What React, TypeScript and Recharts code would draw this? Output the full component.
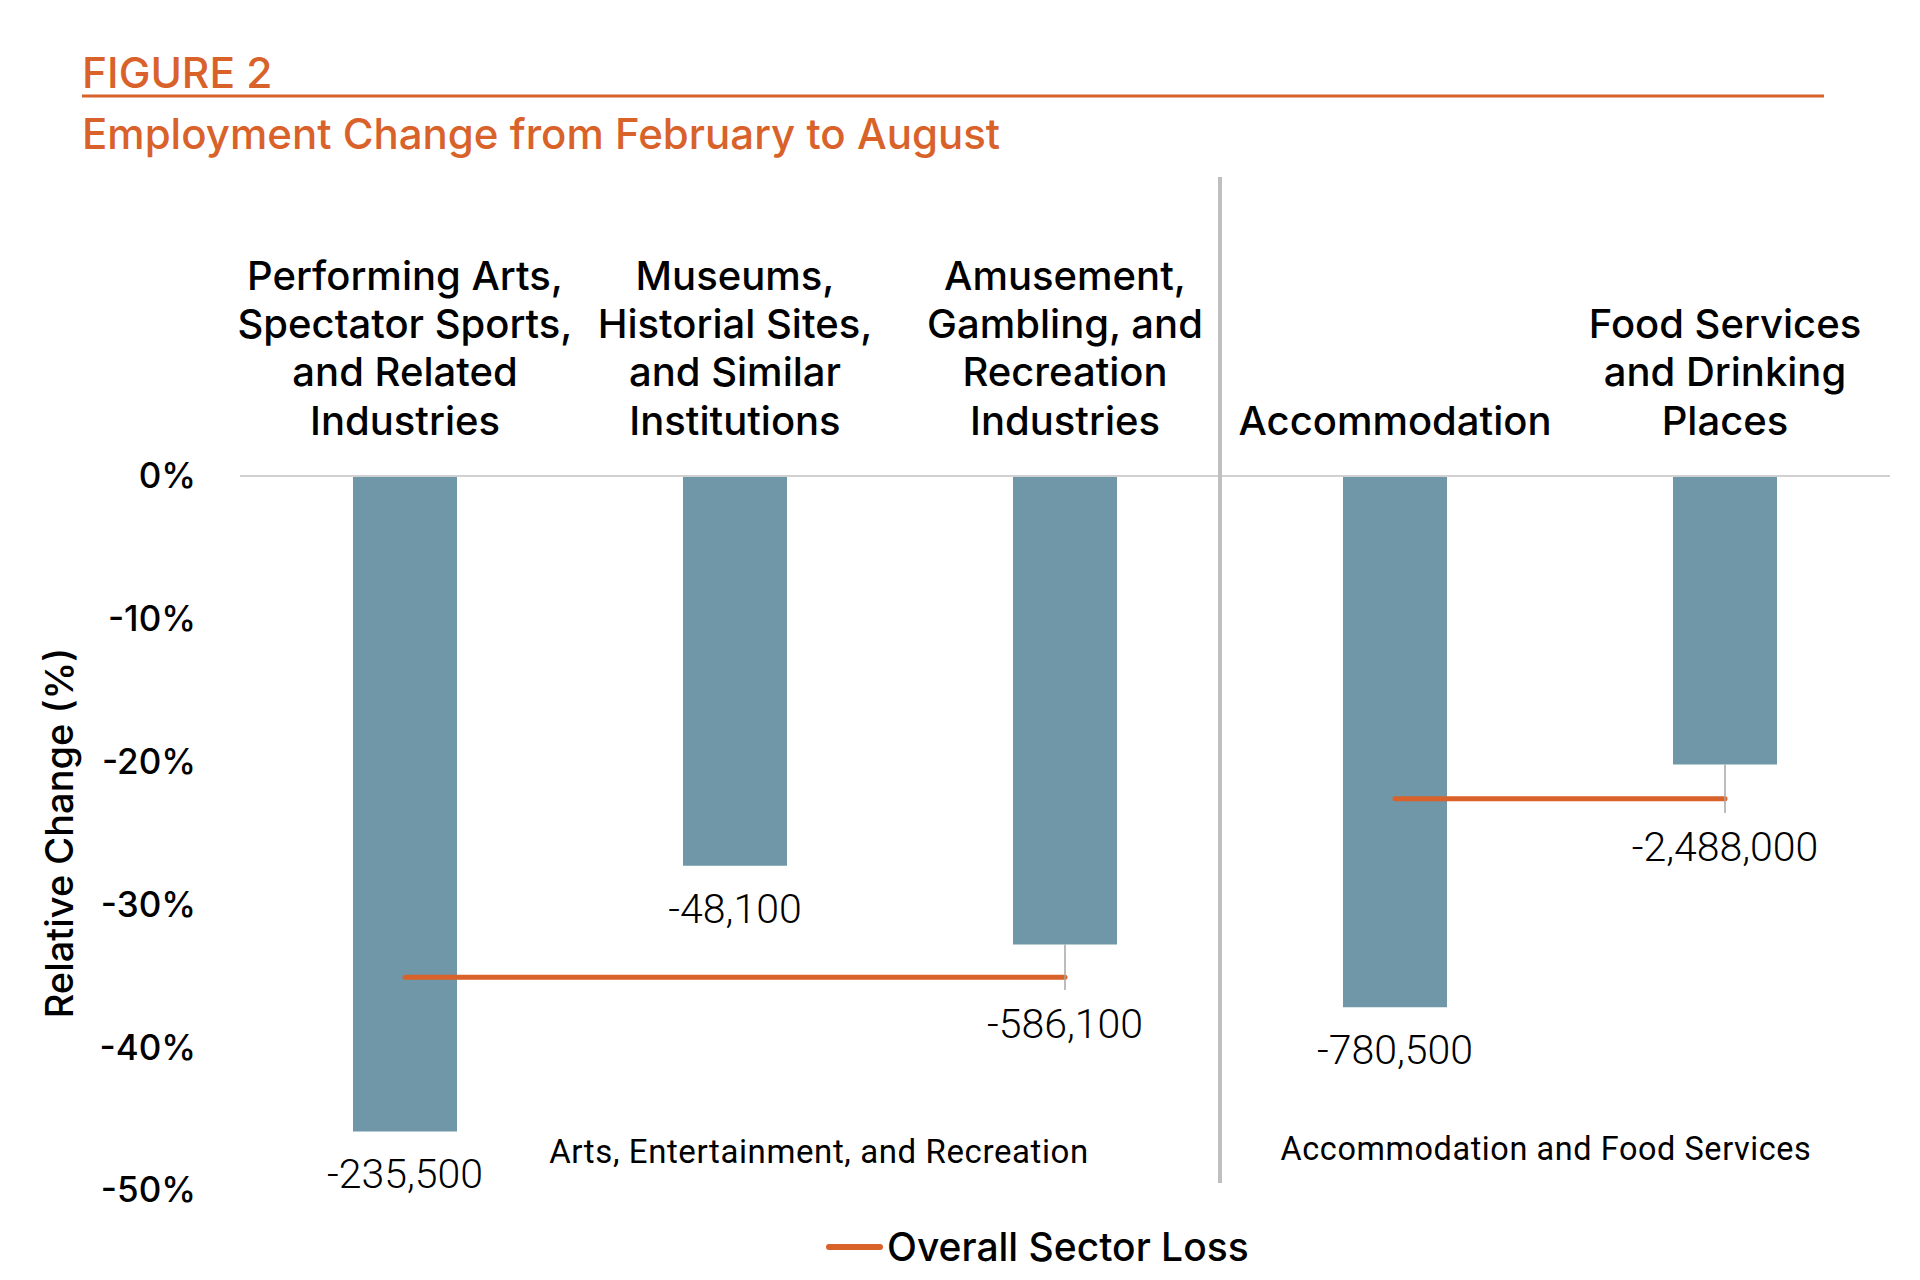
import React from 'react';
import { ComposedChart, Bar, Line, XAxis, YAxis, ReferenceLine, LabelList, Legend } from 'recharts';

// ---------- data ----------
const categories = [
  'Performing Arts, Spectator Sports, and Related Industries',
  'Museums, Historial Sites, and Similar Institutions',
  'Amusement, Gambling, and Recreation Industries',
  'Accommodation',
  'Food Services and Drinking Places',
];
const categoryLines = [
  ['Performing Arts,', 'Spectator Sports,', 'and Related', 'Industries'],
  ['Museums,', 'Historial Sites,', 'and Similar', 'Institutions'],
  ['Amusement,', 'Gambling, and', 'Recreation', 'Industries'],
  ['Accommodation'],
  ['Food Services', 'and Drinking', 'Places'],
];
const relativeChange = [-45.9, -27.3, -32.8, -37.2, -20.2];
const jobsLost = ['-235,500', '-48,100', '-586,100', '-780,500', '-2,488,000'];
const artsSectorLoss = [-35.1, -35.1, -35.1, null, null];
const accomSectorLoss = [null, null, null, -22.6, -22.6];
const leaderEnd = [null, null, -36.0, null, -23.6];
const yTicks = [0, -10, -20, -30, -40, -50];
const groupLabels = ['Arts, Entertainment, and Recreation', 'Accommodation and Food Services'];
const legendName = 'Overall Sector Loss';

const rows = categories.map((c, i) => ({
  cat: c,
  pct: relativeChange[i],
  arts: artsSectorLoss[i],
  accom: accomSectorLoss[i],
}));

// ---------- styles ----------
const ORANGE = '#D9622B';
const BAR = '#7097A8';
const LEADER = '#A6A6A6';
const BOLD = 'Inter, "Noto Sans", sans-serif';
const LIGHT = 'Roboto, "Open Sans", sans-serif';

const CategoryTick = (props: any) => {
  const { x, y, payload } = props;
  const idx = categories.indexOf(payload.value);
  const lines = categoryLines[idx] || [String(payload.value)];
  const n = lines.length;
  return (
    <text x={x} y={y} textAnchor="middle" fill="#000" fontFamily={BOLD} fontSize={40} fontWeight={500}>
      {lines.map((l, i) => (
        <tspan key={i} x={x} y={y - 41.5 - (n - 1 - i) * 48.2}>
          {l}
        </tspan>
      ))}
    </text>
  );
};

const ValueLabel = (props: any) => {
  const vb = props.viewBox ?? props;
  const x = Number(vb.x);
  const y = Number(vb.y);
  const w = Number(vb.width);
  const h = Number(vb.height);
  let i = props.index;
  if (i == null) i = relativeChange.indexOf(Number(props.value));
  const v = relativeChange[i];
  const top = Math.min(y, y + h);
  const bottom = Math.max(y, y + h);
  const ppu = (bottom - top) / Math.abs(v);
  const cx = x + w / 2;
  const le = leaderEnd[i];
  let center = bottom + 42;
  const els: any[] = [];
  if (le != null) {
    const ly = top + Math.abs(le) * ppu;
    els.push(<line key="l" x1={cx} x2={cx} y1={bottom} y2={ly} stroke={LEADER} strokeWidth={1.5} />);
    center = ly + 33;
  }
  els.push(
    <text key="t" x={cx} y={center} dy="0.36em" textAnchor="middle" fill="#000" fontFamily={LIGHT} fontSize={41} fontWeight={300}>
      {jobsLost[i]}
    </text>
  );
  return <g>{els}</g>;
};

const YLabel = (props: any) => {
  const vb = props.viewBox || { x: 90, y: 476, width: 150, height: 714 };
  const cx = vb.x - 31;
  const cy = vb.y + vb.height / 2;
  return (
    <text x={cx} y={cy} transform={`rotate(-90 ${cx} ${cy})`} textAnchor="middle" dominantBaseline="central" fill="#000" fontFamily={BOLD} fontSize={38} fontWeight={500}>
      Relative Change (%)
    </text>
  );
};

const LegendContent = (props: any) => {
  const items = (props.payload || []).filter((p: any) => p.type !== 'none');
  const label = items.length ? items[0].value : legendName;
  return (
    <div style={{ display: 'flex', alignItems: 'center', fontFamily: BOLD, fontSize: 39, fontWeight: 500, color: '#000', lineHeight: '50px' }}>
      <span style={{ display: 'inline-block', width: 57, height: 6, borderRadius: 3, background: ORANGE, marginRight: 4 }} />
      <span>{label}</span>
    </div>
  );
};

export default function App() {
  return (
    <div style={{ position: 'absolute', left: 0, top: 0, width: 1920, height: 1280, background: '#fff' }}>
      <ComposedChart width={1920} height={1280} data={rows} margin={{ top: 216, right: 30, left: 90, bottom: 90 }}>
        <XAxis dataKey="cat" orientation="top" height={260} interval={0} axisLine={false} tickLine={false} tickSize={0} tickMargin={0} tick={<CategoryTick />} />
        <YAxis
          type="number"
          domain={[-50, 0]}
          ticks={yTicks}
          width={150}
          axisLine={false}
          tickLine={false}
          tickSize={0}
          tickMargin={44}
          tickFormatter={(v: number) => `${v}%`}
          tick={{ fill: '#000', fontSize: 35, fontFamily: BOLD, fontWeight: 500 }}
          label={{ content: YLabel }}
        />
        <ReferenceLine y={0} stroke="#D0D0D0" strokeWidth={2} />
        <Bar dataKey="pct" fill={BAR} barSize={104} isAnimationActive={false} legendType="none">
          <LabelList dataKey="pct" content={ValueLabel} />
        </Bar>
        <Line dataKey="arts" name={legendName} stroke={ORANGE} strokeWidth={5} strokeLinecap="round" dot={false} activeDot={false} isAnimationActive={false} legendType="plainline" />
        <Line dataKey="accom" name={legendName} stroke={ORANGE} strokeWidth={5} strokeLinecap="round" dot={false} activeDot={false} isAnimationActive={false} legendType="none" />
        <Legend layout="horizontal" verticalAlign="middle" align="center" wrapperStyle={{ top: 1222, left: 826, width: 'auto' }} content={<LegendContent />} />
      </ComposedChart>
      <svg width={1920} height={1280} style={{ position: 'absolute', left: 0, top: 0, pointerEvents: 'none' }}>
        <text x={82} y={88} fill={ORANGE} fontFamily={BOLD} fontSize={42.5} fontWeight={500}>FIGURE 2</text>
        <line x1={82} x2={1824} y1={96} y2={96} stroke={ORANGE} strokeWidth={3} />
        <text x={82} y={149} fill={ORANGE} fontFamily={BOLD} fontSize={42} fontWeight={500}>Employment Change from February to August</text>
        <line x1={1220} x2={1220} y1={177} y2={1183} stroke="#BFBFBF" strokeWidth={4} />
        <text x={819} y={1163} textAnchor="middle" fill="#000" fontFamily={LIGHT} fontSize={33} fontWeight={400} letterSpacing={0.6}>{groupLabels[0]}</text>
        <text x={1546} y={1160} textAnchor="middle" fill="#000" fontFamily={LIGHT} fontSize={32.4} fontWeight={400} letterSpacing={0.6}>{groupLabels[1]}</text>
      </svg>
    </div>
  );
}
